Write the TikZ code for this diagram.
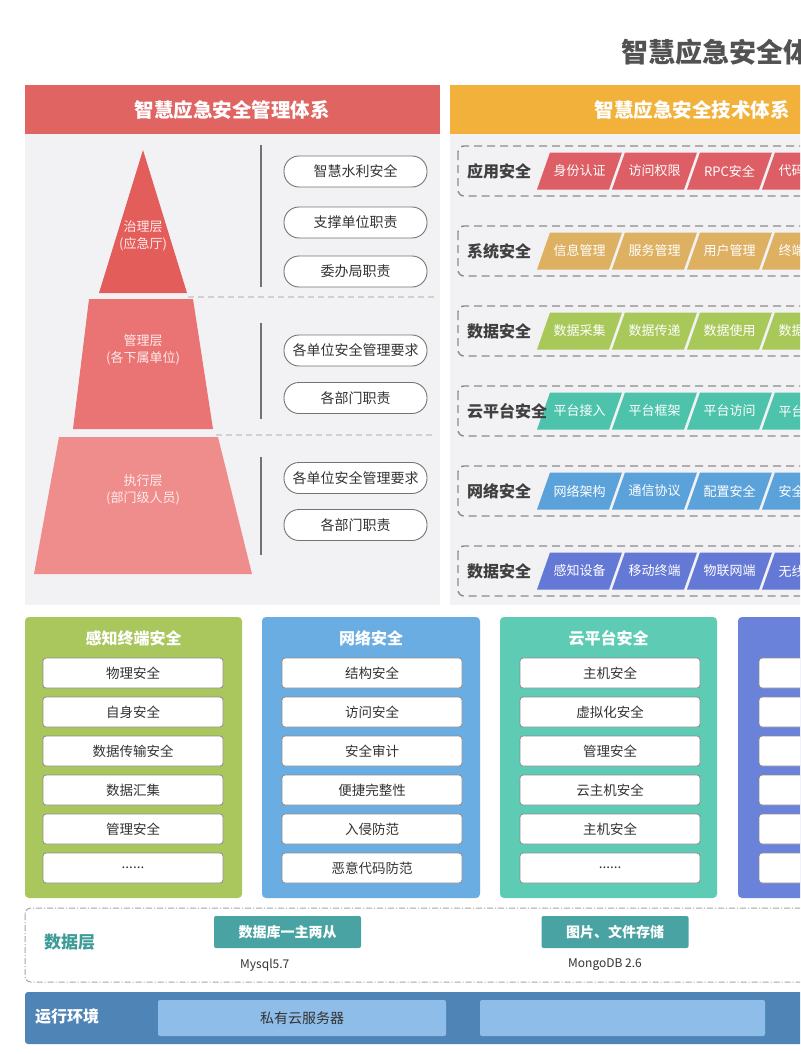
\documentclass[tikz,border=0pt]{standalone}
\usepackage{fontspec}
\setmainfont{Noto Sans CJK SC}
\definecolor{redH}{HTML}{E06462}
\definecolor{orgH}{HTML}{F1B13B}
\definecolor{panelbg}{HTML}{F2F2F4}
\definecolor{pyrA}{HTML}{E35D5B}
\definecolor{pyrB}{HTML}{EA7373}
\definecolor{pyrC}{HTML}{EF8C8C}
\definecolor{rowA}{HTML}{DD5E64}
\definecolor{rowB}{HTML}{DDB062}
\definecolor{rowC}{HTML}{A8C85A}
\definecolor{rowD}{HTML}{4EC3AC}
\definecolor{rowE}{HTML}{5BA2DB}
\definecolor{rowF}{HTML}{6478D6}
\definecolor{pnG}{HTML}{A9C75C}
\definecolor{pnB}{HTML}{6AADE2}
\definecolor{pnT}{HTML}{5ECBB4}
\definecolor{pnI}{HTML}{6B82DA}
\definecolor{tealbox}{HTML}{4AA3A3}
\definecolor{tealtxt}{HTML}{3E9C98}
\definecolor{runbar}{HTML}{4E85B6}
\definecolor{runbox}{HTML}{8DBDE8}
\definecolor{darktxt}{HTML}{333333}
\newcommand\sixdots{......}
\newcommand\pgram[5]{%
  \fill[#4] (#2-29.5,#3-18.5) -- (#2+42.5,#3-18.5) -- (#2+29.5,#3+18.5) -- (#2-42.5,#3+18.5) -- cycle;
  \node[ptext] (#1) at (#2,#3) {#5};}
\begin{document}
\begin{tikzpicture}[x=1pt,y=-1pt,
  pill/.style={draw=black!55, fill=white, rounded corners=15, line width=0.9, minimum width=143, minimum height=31, inner sep=0, font=\fontsize{14}{14}\selectfont, text=darktxt},
  pyrtext/.style={text=white!92!red, align=center, font=\fontsize{13}{17}\selectfont},
  ptext/.style={text=white, font=\fontsize{13}{13}\selectfont, inner sep=0},
  rowlab/.style={anchor=west, text=black!75, font=\bfseries\fontsize{16}{16}\selectfont, inner sep=0},
  rowbox/.style={draw=black!45, dash pattern=on 8pt off 5pt, line width=1.4, rounded corners=6},
  item/.style={draw=black!45, fill=white, rounded corners=3, line width=0.8, minimum width=180, minimum height=30, inner sep=0, font=\fontsize{13.5}{13.5}\selectfont, text=darktxt},
  ptitle/.style={text=white, font=\bfseries\fontsize{16}{16}\selectfont},
  htext/.style={text=white, font=\bfseries\fontsize{19.5}{19.5}\selectfont},
  tbox/.style={fill=tealbox, rounded corners=2, minimum width=147, minimum height=32, inner sep=0, text=white, font=\bfseries\fontsize{14}{14}\selectfont},
  small/.style={anchor=west, inner sep=0, text=darktxt, font=\fontsize{12}{12}\selectfont}]
\path[use as bounding box] (0,0) rectangle (800,1054);
\clip (0,0) rectangle (800,1054);
\fill[white] (0,0) rectangle (800,1054);

% title
\node[anchor=west, inner sep=0, text=black!68, font=\bfseries\fontsize{27}{27}\selectfont] (title) at (621,52) {智慧应急安全体系};

% headers
\fill[redH] (25,85) rectangle (440,134);
\node[htext] (hl) at (232,110) {智慧应急安全管理体系};
\fill[orgH] (450,85) rectangle (830,134);
\node[htext] (hr) at (692,110) {智慧应急安全技术体系};

% body panels
\fill[panelbg] (25,134) rectangle (440,605);
\fill[panelbg] (450,134) rectangle (830,605);

% pyramid
\fill[pyrA] (143,150) -- (187,293) -- (99,293) -- cycle;
\fill[pyrB] (89,299) -- (193,299) -- (213,429) -- (73,429) -- cycle;
\fill[pyrC] (59,437) -- (218,437) -- (252,574) -- (34,574) -- cycle;
\node[pyrtext] (L1) at (143,236) {治理层\\(应急厅)};
\node[pyrtext] (L2) at (143,350) {管理层\\(各下属单位)};
\node[pyrtext] (L3) at (143,490) {执行层\\(部门级人员)};

% separators
\draw[black!18, dash pattern=on 6pt off 4pt, line width=1.2] (188,297) -- (436,297);
\draw[black!18, dash pattern=on 6pt off 4pt, line width=1.2] (216,435) -- (436,435);
\draw[black!55, line width=1.1] (261,145) -- (261,287);
\draw[black!55, line width=1.1] (261,323) -- (261,419);
\draw[black!55, line width=1.1] (261,457) -- (261,555);

% pills
\node[pill] (m1) at (355.5,171.5) {智慧水利安全};
\node[pill] (m2) at (355.5,222.5) {支撑单位职责};
\node[pill] (m3) at (355.5,271.5) {委办局职责};
\node[pill] (m4) at (355.5,350.5) {各单位安全管理要求};
\node[pill] (m5) at (355.5,398) {各部门职责};
\node[pill] (m6) at (355.5,478) {各单位安全管理要求};
\node[pill] (m7) at (355.5,525) {各部门职责};

% technical rows
\draw[rowbox] (458,146) rectangle (830,196);
\draw[rowbox] (458,226) rectangle (830,276);
\draw[rowbox] (458,306) rectangle (830,356);
\draw[rowbox] (458,386) rectangle (830,436);
\draw[rowbox] (458,466) rectangle (830,516);
\draw[rowbox] (458,546) rectangle (830,596);
\node[rowlab] (r1) at (467,171) {应用安全};
\node[rowlab] (r2) at (467,251) {系统安全};
\node[rowlab] (r3) at (467,331) {数据安全};
\node[rowlab] (r6) at (467,571) {数据安全};
\node[rowlab] (r5) at (467,491) {网络安全};
\foreach \k/\t in {0/身份认证,1/访问权限,2/RPC安全,3/代码安全} {\pgram{a\k}{579.5+75*\k}{171}{rowA}{\t}}
\foreach \k/\t in {0/信息管理,1/服务管理,2/用户管理,3/终端管理} {\pgram{b\k}{579.5+75*\k}{251}{rowB}{\t}}
\foreach \k/\t in {0/数据采集,1/数据传递,2/数据使用,3/数据存储} {\pgram{c\k}{579.5+75*\k}{331}{rowC}{\t}}
\foreach \k/\t in {0/平台接入,1/平台框架,2/平台访问,3/平台安全} {\pgram{d\k}{579.5+75*\k}{411}{rowD}{\t}}
\foreach \k/\t in {0/网络架构,1/通信协议,2/配置安全,3/安全审计} {\pgram{e\k}{579.5+75*\k}{491}{rowE}{\t}}
\foreach \k/\t in {0/感知设备,1/移动终端,2/物联网端,3/无线网络} {\pgram{f\k}{579.5+75*\k}{571}{rowF}{\t}}
\node[rowlab] (r4) at (467,411) {云平台安全};

% bottom panels
\fill[pnG] (25,617) [rounded corners=4] rectangle (242,898);
\fill[pnB] (262,617) [rounded corners=4] rectangle (480,898);
\fill[pnT] (500,617) [rounded corners=4] rectangle (717,898);
\fill[pnI] (738,617) [rounded corners=4] rectangle (955,898);
\node[ptitle] (t1) at (133.5,638) {感知终端安全};
\node[ptitle] (t2) at (371,638) {网络安全};
\node[ptitle] (t3) at (608.5,638) {云平台安全};
\foreach \i/\t in {0/物理安全,1/自身安全,2/数据传输安全,3/数据汇集,4/管理安全,5/\sixdots} {\node[item] (g\i) at (133,673+39*\i) {\t};}
\foreach \i/\t in {0/结构安全,1/访问安全,2/安全审计,3/便捷完整性,4/入侵防范,5/恶意代码防范} {\node[item] (n\i) at (372,673+39*\i) {\t};}
\foreach \i/\t in {0/主机安全,1/虚拟化安全,2/管理安全,3/云主机安全,4/主机安全,5/\sixdots} {\node[item] (y\i) at (610,673+39*\i) {\t};}
\foreach \i in {0,1,2,3,4,5} {\node[item] (z\i) at (849,673+39*\i) {};}

% data layer
\draw[black!35, dash pattern=on 6pt off 2pt on 1pt off 2pt, line width=1, rounded corners=6] (25,908) rectangle (830,982);
\node[anchor=west, inner sep=0, text=tealtxt, font=\bfseries\fontsize{17}{17}\selectfont] (dl) at (44,942) {数据层};
\node[tbox] (db1) at (287.5,932) {数据库一主两从};
\node[tbox] (db2) at (615,932) {图片、文件存储};
\node[small] (ms) at (240,965) {Mysql5.7};
\node[small] (mg) at (568,965) {MongoDB 2.6};

% runtime
\fill[runbar] (25,992) [rounded corners=3] rectangle (830,1044);
\node[anchor=west, inner sep=0, text=white, font=\bfseries\fontsize{16}{16}\selectfont] (rt) at (35,1016) {运行环境};
\node[fill=runbox, rounded corners=2, minimum width=288, minimum height=36, inner sep=0, text=darktxt, font=\fontsize{14}{14}\selectfont] (s1) at (302,1018) {私有云服务器};
\node[fill=runbox, rounded corners=2, minimum width=285, minimum height=36, inner sep=0] (s2) at (622.5,1018) {};
\end{tikzpicture}
\end{document}
